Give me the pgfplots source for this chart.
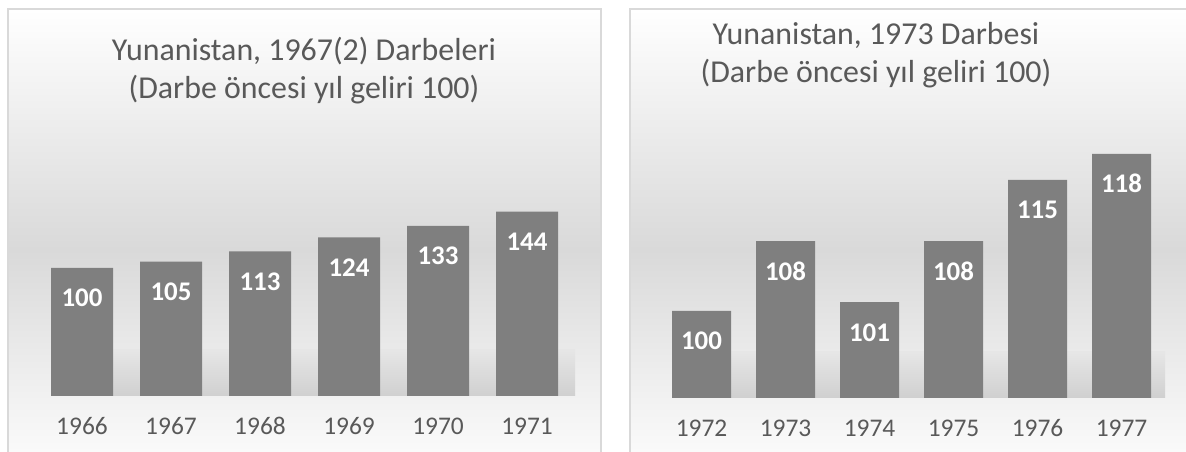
\documentclass[border=0pt]{standalone}
\usepackage{fontspec}
\setmainfont{Carlito}
\usepackage{pgfplots}
\pgfplotsset{compat=1.18}
\definecolor{barc}{HTML}{7F7F7F}
\definecolor{txt}{HTML}{595959}
\definecolor{framec}{HTML}{D9D9D9}
\definecolor{bgmid}{HTML}{D9D9D9}
\definecolor{bgfloor}{HTML}{F2F2F2}
\definecolor{bgbot}{HTML}{FAFAFA}
\definecolor{bgband}{HTML}{E6E6E6}
\definecolor{shadow}{HTML}{D0D0D0}

\pgfplotsset{
  panel/.style={
    anchor=south west, scale only axis, clip=false,
    xmin=-0.5, xmax=5.5,
    axis x line=bottom, axis y line=none,
    x axis line style={-, draw=none},
    major tick length=0pt,
    xtick={0,...,5},
    xticklabel style={font=\fontsize{25.5}{25.5}\selectfont, text=txt, anchor=base, yshift=-39bp, inner sep=0pt},
    /pgf/number format/assume math mode=true,
  },
  barplot/.style={
    ybar, fill=barc, draw=none,
    nodes near coords,
    nodes near coords style={font=\fontsize{27}{27}\selectfont\bfseries, text=white, anchor=base, yshift=-39bp, inner sep=0pt},
  },
}

\begin{document}
\begin{tikzpicture}[x=1bp,y=1bp]
\useasboundingbox (0,0) rectangle (1186,452);
\fill[white] (0,0) rectangle (1186,452);
% ---- panel backgrounds
\foreach \xa/\xb in {8/601, 630/1186} {
  \shade[top color=white, bottom color=bgmid] (\xa,443) rectangle (\xb,202);
  \shade[top color=bgmid, bottom color=bgfloor] (\xa,202) rectangle (\xb,52);
  \shade[top color=bgfloor, bottom color=bgbot] (\xa,52) rectangle (\xb,0);
}
% floor shadows
\shade[top color=bgband, bottom color=shadow] (51,102) rectangle (575,56);
\shade[top color=bgband, bottom color=shadow] (672,100) rectangle (1165,54);
% frames
\draw[framec, line width=1.5bp] (8,0) -- (8,443) -- (601,443) -- (601,0);
\draw[framec, line width=1.5bp] (630,0) -- (630,443) -- (1190,443);
% ---- titles (anchor base = baseline of last line)
\node[align=center, text=txt, font=\fontsize{32}{39}\selectfont, anchor=base] at (304,353) {Yunanistan, 1967(2) Darbeleri\\(Darbe öncesi yıl geliri 100)};
\node[align=center, text=txt, font=\fontsize{32}{39}\selectfont, anchor=base] at (876,369) {Yunanistan, 1973 Darbesi\\(Darbe öncesi yıl geliri 100)};

% ---- left chart
\begin{axis}[panel, at={(37.5bp,56bp)}, width=534bp, height=256bp,
  ymin=0, ymax=200,
  xticklabels={1966,1967,1968,1969,1970,1971}]
\addplot[barplot, bar width=62bp] coordinates {(0,100) (1,105) (2,113) (3,124) (4,133) (5,144)};
\end{axis}

% ---- right chart
\begin{axis}[panel, at={(659.5bp,54bp)}, width=504bp, height=348.8bp,
  ymin=90, ymax=130,
  xticklabels={1972,1973,1974,1975,1976,1977}]
\addplot[barplot, bar width=59bp] coordinates {(0,100) (1,108) (2,101) (3,108) (4,115) (5,118)};
\end{axis}
\end{tikzpicture}
\end{document}
